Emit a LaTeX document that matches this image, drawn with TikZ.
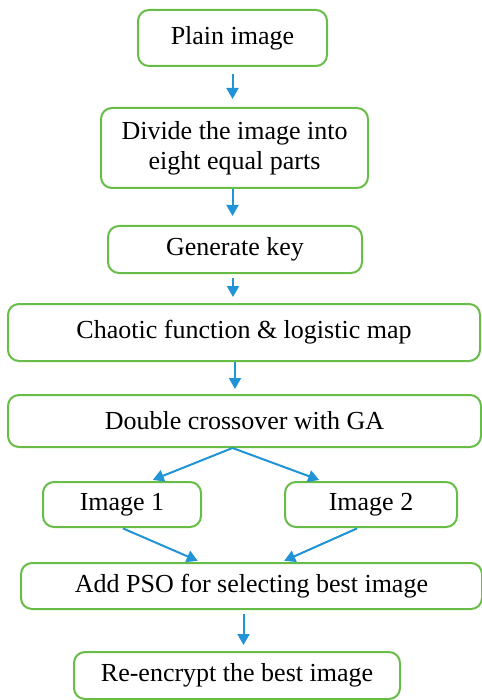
\documentclass[tikz,border=0pt]{standalone}
\usepackage{fontspec}
\setmainfont{Liberation Serif}
\usepackage{xcolor}
\usepackage{tikz}
\usetikzlibrary{arrows.meta}
\definecolor{boxgreen}{RGB}{104,188,72}
\definecolor{arrblue}{RGB}{32,148,214}
\tikzset{
  stepbox/.style={draw=boxgreen, line width=2pt, rounded corners=11pt, inner sep=0pt,
    align=center, font=\fontsize{26}{30}\selectfont},
  arr/.style={draw=arrblue, line width=2pt, -{Triangle[length=11pt,width=12pt]}}
}

\begin{document}
\begin{tikzpicture}[x=1pt,y=-1pt]
\useasboundingbox (0,0) rectangle (481,700);
\node[stepbox, minimum width=189pt, minimum height=56pt] (plain) at (232.5,38){Plain image};
\node[stepbox, minimum width=267pt, minimum height=80pt] (divide) at (234.5,148){Divide the image into\\eight equal parts};
\node[stepbox, minimum width=254pt, minimum height=47pt] (gen) at (235,249.5){Generate key};
\node[stepbox, minimum width=472pt, minimum height=57pt] (chaos) at (244,332.5){Chaotic function \& logistic map};
\node[stepbox, minimum width=473pt, minimum height=52pt] (cross) at (244.5,421){Double crossover with GA};
\node[stepbox, minimum width=158pt, minimum height=45pt] (img1) at (122,504.5){Image 1};
\node[stepbox, minimum width=172pt, minimum height=45pt] (img2) at (371,504.5){Image 2};
\node[stepbox, minimum width=461pt, minimum height=46pt] (pso) at (251.5,586){Add PSO for selecting best image};
\node[stepbox, minimum width=326pt, minimum height=47pt] (reenc) at (237,675.5){Re-encrypt the best image};
\draw[arr, shorten <=7pt, shorten >=8pt] (plain.south) -- (plain.south |- divide.north);
\draw[arr, shorten >=9pt] (divide.south -| plain.south) -- (plain.south |- gen.north);
\draw[arr, shorten <=4pt, shorten >=6pt] ([xshift=-2pt]gen.south) -- ([xshift=-2pt]gen.south |- chaos.north);
\draw[arr, shorten >=5pt] (chaos.south -| gen.south) -- (cross.north -| gen.south);
\draw[arr, shorten >=3pt] ([xshift=-12pt]cross.south) -- ([xshift=28pt]img1.north);
\draw[arr, shorten >=3pt] ([xshift=-12pt]cross.south) -- ([xshift=-49pt]img2.north);
\draw[arr, shorten <=1pt, shorten >=3pt] (img1.south) -- ([xshift=-51pt]pso.north);
\draw[arr, shorten <=1pt, shorten >=3pt] ([xshift=-13pt]img2.south) -- ([xshift=30pt]pso.north);
\draw[arr, shorten <=4pt, shorten >=6pt] ([xshift=-8pt]pso.south) -- ([xshift=-8pt]pso.south |- reenc.north);
\end{tikzpicture}
\end{document}
